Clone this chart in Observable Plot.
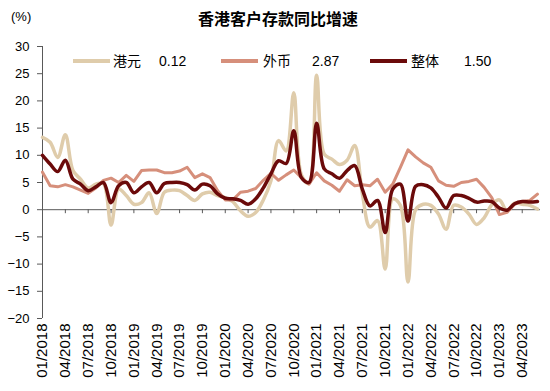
<!DOCTYPE html>
<html>
<head>
<meta charset="utf-8">
<script src="https://cdn.jsdelivr.net/npm/d3@7"></script>
<script src="https://cdn.jsdelivr.net/npm/@observablehq/plot@0.6"></script>
<style>
  html, body { margin: 0; padding: 0; background: #fff; }
  body { font-family: "Liberation Sans", Arial, "Noto Sans CJK SC", sans-serif; color: #000; }
  #wrap { position: relative; width: 550px; height: 391px; overflow: hidden; }
  .abs { position: absolute; white-space: nowrap; line-height: 1; }
  #title { top: 10px; left: 0; width: 556px; text-align: center; font-size: 16px; font-weight: bold; font-family: "Noto Sans CJK SC", sans-serif; }
  #unit { top: 10px; left: 11px; font-size: 13px; }
  .lg-line { position: absolute; height: 4px; }
  .lg-text { position: absolute; font-size: 14px; line-height: 1; }
  .cjk { font-family: "Noto Sans CJK SC", sans-serif; }
</style>
</head>
<body>
<div id="wrap"></div>
<script>
// ---- data ----
const months = [
  "01/2018","02/2018","03/2018","04/2018","05/2018","06/2018","07/2018","08/2018","09/2018","10/2018","11/2018","12/2018",
  "01/2019","02/2019","03/2019","04/2019","05/2019","06/2019","07/2019","08/2019","09/2019","10/2019","11/2019","12/2019",
  "01/2020","02/2020","03/2020","04/2020","05/2020","06/2020","07/2020","08/2020","09/2020","10/2020","11/2020","12/2020",
  "01/2021","02/2021","03/2021","04/2021","05/2021","06/2021","07/2021","08/2021","09/2021","10/2021","11/2021","12/2021",
  "01/2022","02/2022","03/2022","04/2022","05/2022","06/2022","07/2022","08/2022","09/2022","10/2022","11/2022","12/2022",
  "01/2023","02/2023","03/2023","04/2023","05/2023","06/2023"
];
// 港元
const hkd = [
  13.3, 12.4, 9.6, 13.8, 7.2, 5.6, 4.0, 4.7, 4.8, -2.8, 3.8, 2.6,
  1.0, 1.3, 3.1, -0.7, 3.2, 3.6, 3.5, 2.6, 1.7, 2.9, 3.2, 2.6,
  2.2, 1.5, -0.2, -1.2, -0.5, 1.8, 5.3, 12.7, 10.8, 21.5, 6.4, 4.8,
  24.7, 10.2, 9.3, 8.3, 9.1, 11.8, 3.0, -3.2, -2.0, -10.9, 2.0, 0.8,
  -13.3, 0.0, 1.0, 0.8, -0.8, -3.6, 0.8, 0.5, -0.8, -2.7, -1.5, 0.9,
  1.8, -0.2, 1.2, 1.0, 0.8, 0.12
];
// 外币
const fx = [
  6.9, 4.4, 4.2, 4.6, 4.2, 3.6, 3.0, 4.0, 5.4, 5.8, 5.0, 6.3,
  5.2, 7.2, 7.3, 7.3, 6.8, 6.8, 7.1, 7.8, 5.9, 6.6, 5.9, 3.5,
  1.8, 1.8, 3.2, 3.4, 3.9, 5.4, 6.7, 5.4, 6.4, 7.3, 5.9, 4.7,
  6.8, 5.3, 4.5, 3.4, 5.5, 4.4, 4.6, 4.4, 5.6, 3.2, 4.7, 7.8,
  11.0, 9.7, 8.6, 7.8, 5.3, 4.5, 4.3, 5.0, 5.2, 5.6, 4.1, 2.2,
  -0.9, -0.5, 1.0, 1.5, 1.7, 2.87
];
// 整体
const total = [
  10.0, 8.4, 7.0, 9.1, 5.6, 4.7, 3.5, 4.2, 5.0, 1.3, 4.4, 5.0,
  3.1, 4.2, 5.0, 3.1, 4.8, 5.0, 5.0, 4.6, 3.6, 4.7, 4.4, 2.9,
  2.1, 2.0, 1.7, 1.0, 2.0, 4.0, 6.6, 9.0, 8.5, 14.5, 5.9, 5.0,
  15.9, 7.5, 6.6, 5.8, 7.2, 8.1, 3.8, 0.7, 1.7, -4.2, 3.8, 4.7,
  -2.1, 4.3, 4.6, 4.0, 2.3, 0.3, 2.6, 2.6, 2.1, 1.4, 1.6, 1.5,
  0.3, -0.1, 1.1, 1.5, 1.4, 1.50
];
const yTicks = [-20, -15, -10, -5, 0, 5, 10, 15, 20, 25, 30];
const seriesNames = ["港元", "外币", "整体"];
const latestLabels = ["0.12", "2.87", "1.50"];
const colors = ["#DFCCAB", "#D68F7B", "#6B0A0A"];
const titleText = "香港客户存款同比增速";
const unitText = "(%)";

// ---- build ----
const rows = months.map((m, i) => ({i, m, hkd: hkd[i], fx: fx[i], total: total[i]}));
const tickIdx = months.map((m, i) => i).filter(i => i % 3 === 0);
const axisColor = "#595959";

const chart = Plot.plot({
  width: 550,
  height: 391,
  marginLeft: 42,
  marginRight: 10,
  marginTop: 46,
  marginBottom: 73,
  style: {fontFamily: "'Liberation Sans', Arial, sans-serif", fontSize: "13px", color: "#000", background: "#fff"},
  x: {type: "linear", domain: [0, 65.4], axis: null},
  y: {domain: [-20, 30], axis: null},
  marks: [
    Plot.axisY({ticks: yTicks, tickSize: 5, tickPadding: 8, fontSize: 13, stroke: axisColor, color: "#000"}),
    Plot.ruleX([0], {stroke: axisColor, strokeWidth: 1}),
    Plot.ruleY([0], {stroke: axisColor, strokeWidth: 1}),
    Plot.ruleX(tickIdx, {x: d => d, y1: () => 0, y2: () => 0, insetBottom: -4, stroke: axisColor}),
    Plot.text(tickIdx, {
      x: d => d, frameAnchor: "bottom", text: d => months[d],
      rotate: -90, textAnchor: "end", lineAnchor: "middle", dy: 5, fontSize: 15, fill: "#000"
    }),
    Plot.line(rows, {x: "i", y: "hkd", stroke: colors[0], strokeWidth: 3.5, curve: "catmull-rom"}),
    Plot.line(rows, {x: "i", y: "fx", stroke: colors[1], strokeWidth: 3, curve: "linear", strokeLinejoin: "round"}),
    Plot.line(rows, {x: "i", y: "total", stroke: colors[2], strokeWidth: 3.5, curve: "catmull-rom"})
  ]
});

const wrap = document.getElementById("wrap");
wrap.appendChild(chart);

function addDiv(cls, text, style) {
  const d = document.createElement("div");
  d.className = cls;
  d.textContent = text;
  Object.assign(d.style, style);
  wrap.appendChild(d);
  return d;
}
const t = addDiv("abs", titleText, {});
t.id = "title";
const u = addDiv("abs", unitText, {});
u.id = "unit";

// legend
const lgX = [[73, 113, 159], [221, 263, 312], [370, 411, 464]];
seriesNames.forEach((name, k) => {
  const [lx, nx, vx] = lgX[k];
  addDiv("lg-line", "", {left: lx + "px", top: "59px", width: "37px", background: colors[k]});
  addDiv("lg-text cjk", name, {left: nx + "px", top: "53px"});
  addDiv("lg-text", latestLabels[k], {left: vx + "px", top: "54px"});
});
</script>
</body>
</html>
